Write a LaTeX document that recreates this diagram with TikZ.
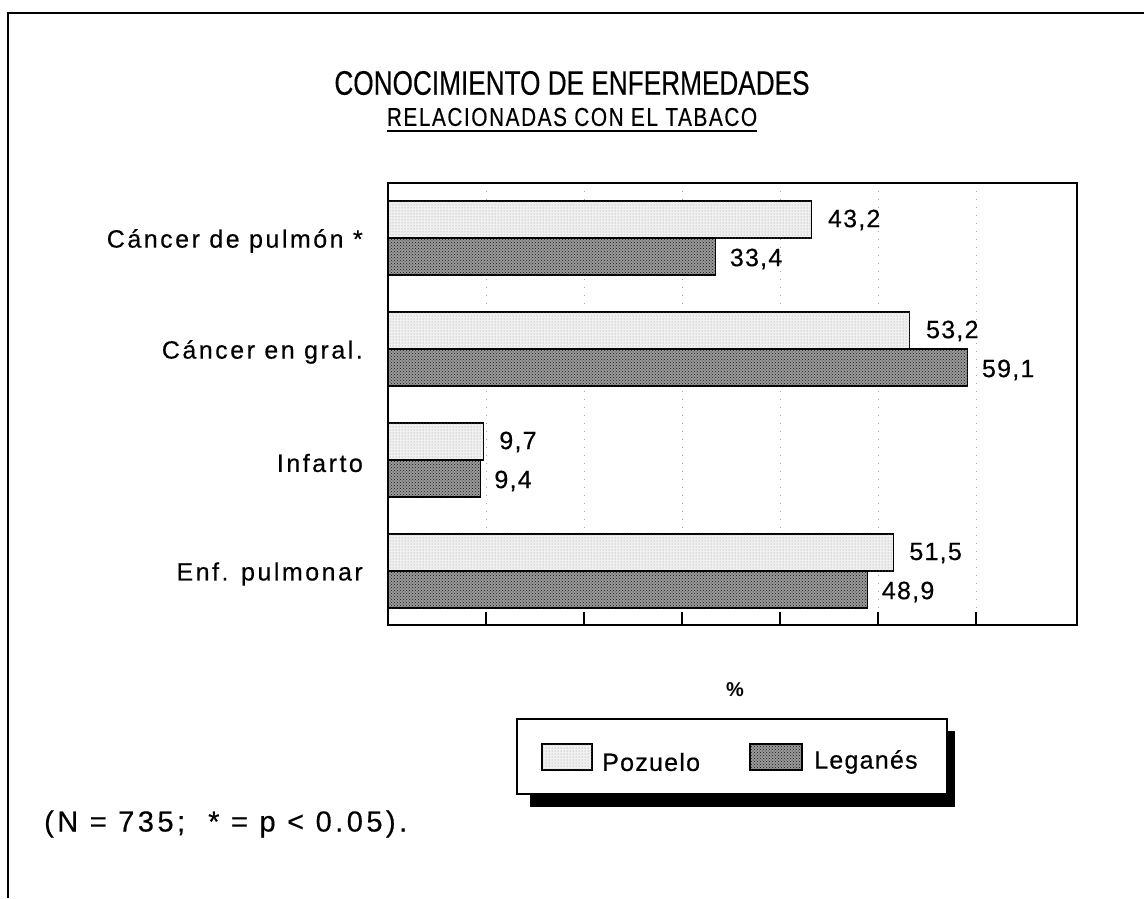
\documentclass[tikz,border=0pt]{standalone}
\usepackage{fontspec}
\setmainfont{Liberation Sans}
\newfontfamily\titlefont[FakeStretch=0.77,FakeBold=0.3]{Liberation Sans}
\newfontfamily\subfont[FakeStretch=0.8,LetterSpace=6,FakeBold=0.3]{Liberation Sans}
\newfontfamily\lblfont[LetterSpace=5,FakeBold=0.4]{Liberation Sans}
\newfontfamily\catfont[LetterSpace=10,FakeBold=0.4]{Liberation Sans}
\newfontfamily\fnfont[LetterSpace=12,FakeBold=0.4]{Liberation Sans}
\usetikzlibrary{patterns}
\tikzset{
  frameline/.style={line width=1.3pt,black},
  plotframe/.style={line width=1.1pt,black},
  gridline/.style={black!35,line width=0.6pt,dash pattern=on 1pt off 7pt},
  pozbar/.style={draw=black,line width=1.1pt,fill=black!6,postaction={pattern=dots,pattern color=black!40}},
  legbar/.style={draw=black,line width=1.1pt,fill=black!40,postaction={pattern=crosshatch dots,pattern color=black!90}},
  cat/.style={anchor=east,inner sep=0pt,font=\catfont\fontsize{25}{28}\selectfont},
  val/.style={anchor=west,inner sep=0pt,font=\lblfont\fontsize{25}{28}\selectfont},
  legtext/.style={anchor=west,inner sep=0pt,font=\lblfont\fontsize{25}{28}\selectfont},
}
\begin{document}
\begin{tikzpicture}[x=1pt,y=-1pt]
\useasboundingbox (0,0) rectangle (1144,898);
% outer frame
\draw[frameline] (1144,13) -- (8,13) -- (8,898);
% title
\node[inner sep=0pt,font=\titlefont\fontsize{34}{38}\selectfont] (t1) at (572,83) {CONOCIMIENTO DE ENFERMEDADES};
\node[inner sep=0pt,font=\subfont\fontsize{26}{29}\selectfont] (t2) at (572,117) {RELACIONADAS CON EL TABACO};
\draw[line width=1.4pt] ([yshift=-5pt]t2.base west) -- ([yshift=-5pt]t2.base east);
% grid lines
\foreach \i in {1,...,6} \draw[gridline] (388+98*\i,183) -- (388+98*\i,612);
% bars
\foreach \yc/\p/\l/\pl/\ll/\nm [count=\k] in {
  238/43.2/33.4/{43,2}/{33,4}/{Cáncer de pulmón *},
  349/53.2/59.1/{53,2}/{59,1}/{Cáncer en gral.},
  460/9.7/9.4/{9,7}/{9,4}/{Infarto},
  571/51.5/48.9/{51,5}/{48,9}/{Enf. pulmonar}} {
  \path[pozbar] (388,\yc-37) rectangle (388+9.81*\p,\yc);
  \path[legbar] (388,\yc) rectangle (388+9.81*\l,\yc+37);
  \node[val] (vp\k) at (388+9.81*\p+16,\yc-18) {\pl};
  \node[val] (vl\k) at (388+9.81*\l+14,\yc+21) {\ll};
  \node[cat] (c\k) at (363,\yc+3) {\nm};
}
% plot frame and ticks
\draw[plotframe] (388,183) rectangle (1077,625);
\foreach \i in {1,...,6} \draw[plotframe] (388+98*\i,625) -- (388+98*\i,612);
% axis label
\node[inner sep=0pt,font=\bfseries\fontsize{20}{22}\selectfont] (pct) at (735,690) {\%};
% legend
\fill[black] (530,731) rectangle (955,807);
\draw[fill=white,line width=1.3pt] (517,719) rectangle (947,794);
\path[pozbar] (542,744) rectangle (592,770);
\node[legtext] (lp) at (602,762) {Pozuelo};
\path[legbar] (750,744) rectangle (802,770);
\node[legtext] (ll) at (814,762) {Leganés};
% footnote
\node[anchor=west,inner sep=0pt,font=\fnfont\fontsize{29}{33}\selectfont] (fn) at (44,824) {(N = 735;\ \ * = p < 0.05).};
\end{tikzpicture}
\end{document}
